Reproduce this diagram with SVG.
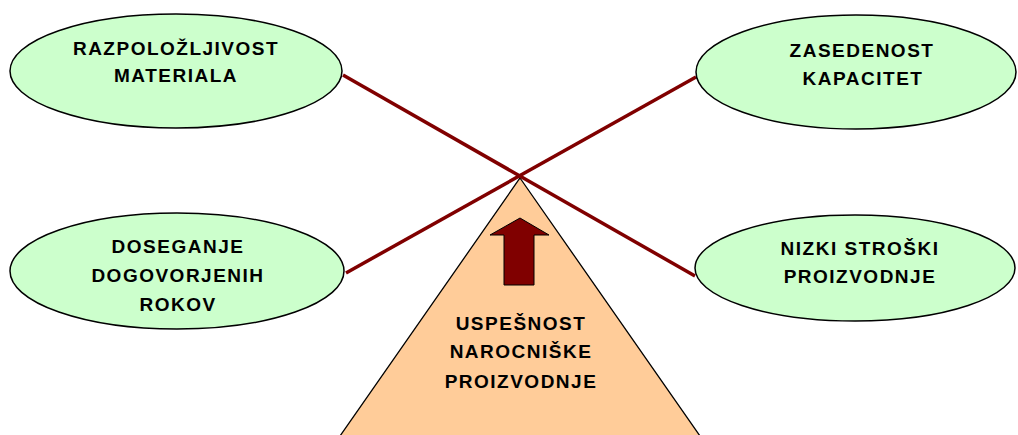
<svg xmlns="http://www.w3.org/2000/svg" width="1018" height="435" viewBox="0 0 1018 435">
  <defs>
    <style>
      .goal { fill: #CCFFCC; stroke: #000000; stroke-width: 1.5; }
      .base { fill: #FFCC99; stroke: #000000; stroke-width: 1.3; }
      .link { stroke: #800000; stroke-width: 3.5; fill: none; stroke-linecap: butt; }
      .lbl { font-family: "Liberation Sans", Arial, sans-serif; font-weight: bold; font-size: 19px; letter-spacing: 1.5px; fill: #000000; text-anchor: middle; }
    </style>
  </defs>
  <rect width="1018" height="435" fill="#FFFFFF"/>

  <!-- pyramid base -->
  <g id="pyramid">
    <polygon class="base" points="520,178 700,436 340,436"/>
    <polygon points="520,218 549,235 534,235 534,285 504,285 504,235 490,235" fill="#800000" stroke="#000000" stroke-width="1"/>
    <text class="lbl" x="521" y="330">USPEŠNOST</text>
    <text class="lbl" x="521" y="358">NAROCNIŠKE</text>
    <text class="lbl" x="521" y="388">PROIZVODNJE</text>
  </g>

  <!-- crossing connectors -->
  <g id="connectors">
    <line class="link" x1="343" y1="75" x2="695" y2="276"/>
    <line class="link" x1="346" y1="273" x2="696" y2="77"/>
  </g>

  <g id="material">
    <ellipse class="goal" cx="176" cy="71" rx="166" ry="57"/>
    <text class="lbl" x="176" y="55">RAZPOLOŽLJIVOST</text>
    <text class="lbl" x="176" y="82">MATERIALA</text>
  </g>

  <g id="capacity">
    <ellipse class="goal" cx="856" cy="72" rx="160" ry="57"/>
    <text class="lbl" x="862" y="57">ZASEDENOST</text>
    <text class="lbl" x="863" y="85">KAPACITET</text>
  </g>

  <g id="deadlines">
    <ellipse class="goal" cx="177" cy="271" rx="167" ry="58"/>
    <text class="lbl" x="178" y="253">DOSEGANJE</text>
    <text class="lbl" x="178" y="282">DOGOVORJENIH</text>
    <text class="lbl" x="178" y="311">ROKOV</text>
  </g>

  <g id="costs">
    <ellipse class="goal" cx="855" cy="268" rx="160" ry="53"/>
    <text class="lbl" x="860" y="255">NIZKI STROŠKI</text>
    <text class="lbl" x="860" y="283">PROIZVODNJE</text>
  </g>
</svg>
